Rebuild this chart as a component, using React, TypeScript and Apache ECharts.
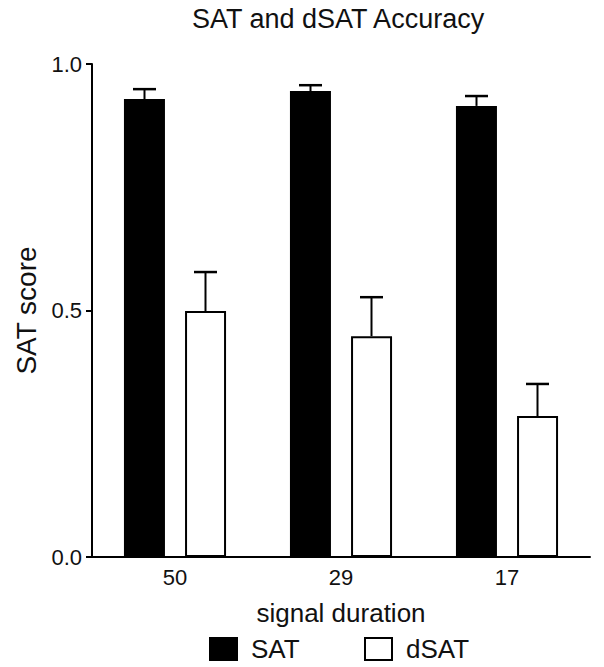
import React, { useEffect, useRef } from "react";
import * as echarts from "echarts";

const categories = ["50", "29", "17"];
const satValues = [0.929, 0.945, 0.915];
const satErrors = [0.02, 0.012, 0.02];
const dsatValues = [0.499, 0.448, 0.286];
const dsatErrors = [0.079, 0.079, 0.065];
const yTicks = [0, 0.5, 1.0];

const FONT = "Liberation Sans, Arial, Helvetica, sans-serif";
const BAR_W = 41;
const OFFSET = 30.5;

export default function App() {
  const ref = useRef<HTMLDivElement>(null);
  useEffect(() => {
    if (!ref.current) return;
    const chart = echarts.init(ref.current, null, { renderer: "svg" });
    const errRender = (offset: number) => (params: any, api: any) => {
      const idx = api.value(0);
      const v = api.value(1);
      const e = api.value(2);
      const base = api.coord([idx, v]);
      const top = api.coord([idx, v + e]);
      const x = base[0] + offset;
      const half = 11.5;
      return {
        type: "group",
        children: [
          { type: "line", shape: { x1: x, y1: base[1], x2: x, y2: top[1] }, style: { stroke: "#000", lineWidth: 2 } },
          { type: "line", shape: { x1: x - half, y1: top[1], x2: x + half, y2: top[1] }, style: { stroke: "#000", lineWidth: 2.5 } },
        ],
      };
    };
    chart.setOption({
      animation: false,
      textStyle: { fontFamily: FONT, color: "#000" },
      title: {
        text: "SAT and dSAT Accuracy",
        left: 192,
        top: 5,
        padding: 0,
        textStyle: { fontFamily: FONT, fontSize: 27, fontWeight: "normal", color: "#111" },
      },
      legend: [
        {
          data: ["SAT"],
          left: 209,
          top: 636,
          padding: 0,
          icon: "rect",
          itemWidth: 27,
          itemHeight: 22,
          textStyle: { fontFamily: FONT, fontSize: 26, color: "#111", padding: [0, 0, 0, 9] },
        },
        {
          data: ["dSAT"],
          left: 364,
          top: 636,
          padding: 0,
          icon: "rect",
          itemWidth: 27,
          itemHeight: 22,
          textStyle: { fontFamily: FONT, fontSize: 26, color: "#111", padding: [0, 0, 0, 9] },
        },
      ],
      grid: { left: 92, right: 14, top: 64, bottom: 110, containLabel: false },
      xAxis: {
        type: "category",
        data: categories,
        name: "signal duration",
        nameLocation: "middle",
        nameGap: 43,
        nameTextStyle: { fontFamily: FONT, fontSize: 26, color: "#111" },
        axisLine: { lineStyle: { color: "#000", width: 2 } },
        axisTick: { alignWithLabel: true, length: 7, lineStyle: { color: "#000", width: 2 } },
        axisLabel: { fontFamily: FONT, fontSize: 22, color: "#111", margin: 9 },
        splitLine: { show: false },
      },
      yAxis: {
        type: "value",
        min: 0,
        max: 1,
        interval: 0.5,
        name: "SAT score",
        nameLocation: "middle",
        nameGap: 52,
        nameTextStyle: { fontFamily: FONT, fontSize: 28, color: "#111" },
        axisLine: { show: true, lineStyle: { color: "#000", width: 2 } },
        axisTick: { show: true, length: 6, lineStyle: { color: "#000", width: 2 } },
        axisLabel: {
          fontFamily: FONT,
          fontSize: 22,
          color: "#111",
          margin: 10,
          formatter: (v: number) => (yTicks.includes(v) ? v.toFixed(1) : ""),
        },
        splitLine: { show: false },
      },
      series: [
        {
          name: "SAT",
          type: "bar",
          data: satValues,
          barWidth: BAR_W,
          barGap: "49%",
          itemStyle: { color: "#000", borderColor: "#000", borderWidth: 2 },
        },
        {
          name: "dSAT",
          type: "bar",
          data: dsatValues,
          barWidth: BAR_W,
          barGap: "49%",
          itemStyle: { color: "#fff", borderColor: "#000", borderWidth: 2 },
        },
        {
          type: "custom",
          renderItem: errRender(-OFFSET),
          data: satValues.map((v, i) => [i, v, satErrors[i]]),
          encode: { x: 0, y: 1 },
          z: 1,
          silent: true,
        },
        {
          type: "custom",
          renderItem: errRender(OFFSET),
          data: dsatValues.map((v, i) => [i, v, dsatErrors[i]]),
          encode: { x: 0, y: 1 },
          z: 1,
          silent: true,
        },
      ],
    });
    return () => chart.dispose();
  }, []);
  return <div ref={ref} style={{ width: 604, height: 667, position: "absolute", left: 0, top: 0 }} />;
}
